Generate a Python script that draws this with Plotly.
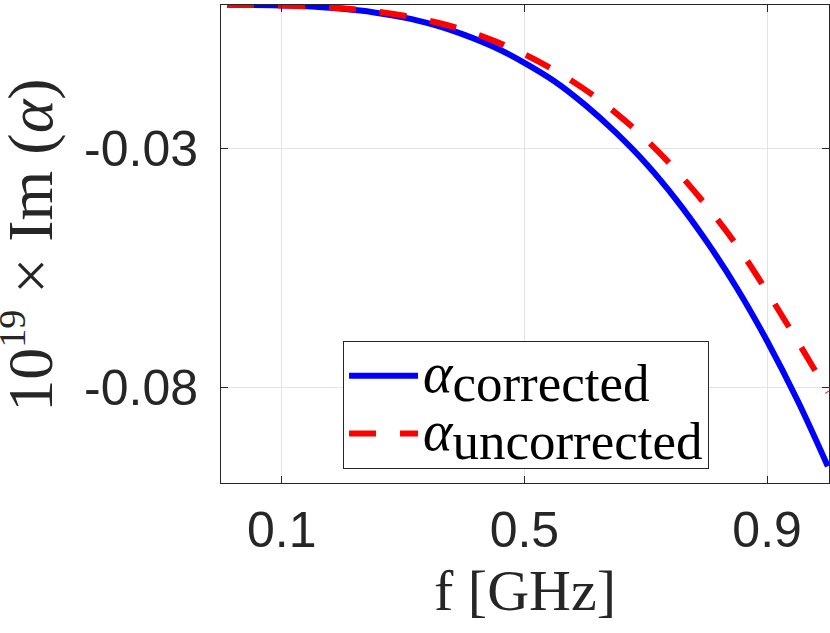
import plotly.graph_objects as go

# frequency samples [GHz]
freq = [0.01, 0.05, 0.10, 0.15, 0.20, 0.25, 0.30, 0.35, 0.40, 0.45, 0.50,
        0.55, 0.60, 0.65, 0.70, 0.75, 0.80, 0.85, 0.90, 0.95, 1.00]

# 1e19 * Im(alpha)
im_corrected = [0.0000, -0.0000, -0.0001, -0.0003, -0.0008, -0.0015, -0.0026,
                -0.0041, -0.0062, -0.0088, -0.0121, -0.0160, -0.0209, -0.0266,
                -0.0331, -0.0407, -0.0494, -0.0592, -0.0703, -0.0827, -0.0965]
im_uncorrected = [0.0000, -0.0000, -0.0001, -0.0003, -0.0007, -0.0013, -0.0022,
                  -0.0035, -0.0052, -0.0075, -0.0103, -0.0137, -0.0177, -0.0225,
                  -0.0281, -0.0346, -0.0420, -0.0503, -0.0600, -0.0703, -0.0810]

x_ticks = [0.1, 0.5, 0.9]
x_ticktext = ['0.1', '0.5', '0.9']
y_ticks = [-0.03, -0.08]
y_ticktext = ['-0.03', '-0.08']

serif = 'Liberation Serif'
sans = 'Liberation Sans'
ink = '#262626'


def legend_label(sub):
    return ('<span style="font-size:56px"><i>α</i></span>'
            '<sub><span style="font-size:53px">' + sub + '</span></sub>')


fig = go.Figure()

fig.add_trace(go.Scatter(
    x=freq, y=im_corrected,
    mode='lines', line=dict(color='#0000ff', width=6, shape='spline'),
    name=legend_label('corrected')
))
fig.add_trace(go.Scatter(
    x=freq, y=im_uncorrected,
    mode='lines', line=dict(color='#ff0000', width=6, dash='27px,24px', shape='spline'),
    name=legend_label('uncorrected')
))

axis_common = dict(
    showline=True, linecolor=ink, linewidth=1, mirror='ticks',
    ticks='inside', ticklen=7, tickcolor=ink,
    showgrid=True, gridcolor='#e3e3e3', gridwidth=1,
    zeroline=False,
    tickfont=dict(family=sans, size=50, color=ink),
)

fig.update_layout(
    width=830, height=633,
    margin=dict(l=221, r=1, t=5, b=150),
    paper_bgcolor='white', plot_bgcolor='white',
    xaxis=dict(
        range=[0, 1.002], tickvals=x_ticks, ticktext=x_ticktext,
        ticklabelstandoff=3,
        title=dict(text='f [GHz]', font=dict(family=serif, size=58, color=ink), standoff=4),
        **axis_common
    ),
    yaxis=dict(
        range=[-0.1, 0.0], tickvals=y_ticks, ticktext=y_ticktext,
        ticklabelstandoff=12,
        **axis_common
    ),
    legend=dict(
        x=0.2007, y=0.297, xanchor='left', yanchor='top',
        bgcolor='white', bordercolor=ink, borderwidth=1,
        font=dict(family=serif, size=42, color='black'),
        itemwidth=69, tracegroupgap=0,
    ),
    showlegend=True,
)

# y-axis title placed by hand, closer to the edge like the original
fig.add_annotation(
    text='10<sup><span style="font-size:38px">19</span></sup> × Im (<i>α</i>)',
    xref='paper', yref='paper', x=-0.316, y=0.498,
    xanchor='center', yanchor='middle', textangle=-90, showarrow=False,
    font=dict(family=serif, size=64, color=ink),
)

fig.write_html('out.html', config={'displayModeBar': False},
               post_script="document.body.style.margin='0';")
